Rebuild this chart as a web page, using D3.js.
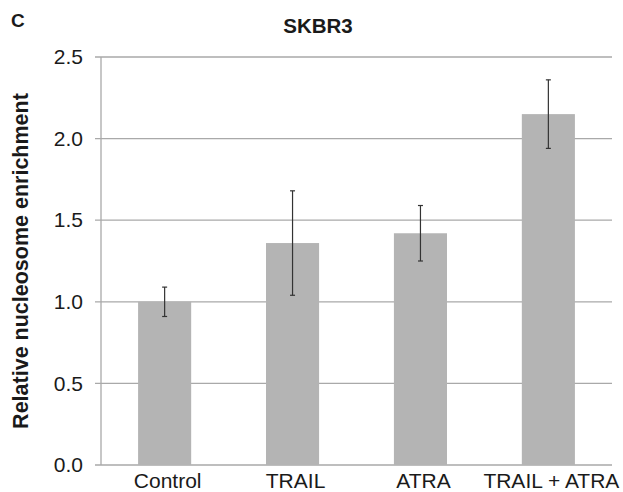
<!DOCTYPE html>
<html>
<head>
<meta charset="utf-8">
<script src="https://cdn.jsdelivr.net/npm/d3@7"></script>
<style>
  body { margin: 0; background: #fff; }
  text { font-family: "Liberation Sans", Arial, sans-serif; }
</style>
</head>
<body>
<script>
// chart values
var categories = ["Control", "TRAIL", "ATRA", "TRAIL + ATRA"];
var means = [1.0, 1.36, 1.42, 2.15];
var errors = [0.09, 0.32, 0.17, 0.21];
var yTicks = [0.0, 0.5, 1.0, 1.5, 2.0, 2.5];

var W = 623, H = 492;
var margin = {top: 57, right: 11, bottom: 27, left: 101};
var w = W - margin.left - margin.right;
var h = H - margin.top - margin.bottom;

var svg = d3.select("body").append("svg")
    .attr("width", W)
    .attr("height", H);

var g = svg.append("g")
    .attr("transform", "translate(" + margin.left + "," + margin.top + ")");

var x = d3.scaleBand()
    .domain(categories)
    .range([0, w])
    .paddingInner(0.585)
    .paddingOuter(0.29);

var y = d3.scaleLinear()
    .domain([0, 2.5])
    .range([h, 0]);

// gridlines (with little outer tick)
g.selectAll("line.grid")
  .data(yTicks)
  .enter()
  .append("line")
  .attr("class", "grid")
  .attr("x1", -6)
  .attr("x2", w)
  .attr("y1", function(d){ return y(d); })
  .attr("y2", function(d){ return y(d); })
  .attr("stroke", "#a9a9a9")
  .attr("stroke-width", 1.3);

// y axis labels
var yAxis = g.append("g")
  .call(d3.axisLeft(y).tickValues(yTicks).tickFormat(d3.format(".1f")).tickSize(0).tickPadding(18));
yAxis.select(".domain").remove();
yAxis.selectAll("text")
  .attr("font-size", 21)
  .attr("fill", "#1a1a1a")
  .attr("font-family", "Liberation Sans, Arial, sans-serif");

// vertical axis line
g.append("line")
  .attr("x1", 0).attr("x2", 0)
  .attr("y1", y(2.5)).attr("y2", y(0))
  .attr("stroke", "#a9a9a9")
  .attr("stroke-width", 1.3);

// bars
g.selectAll("rect.bar")
  .data(categories)
  .enter()
  .append("rect")
  .attr("class", "bar")
  .attr("x", function(d){ return x(d); })
  .attr("width", x.bandwidth())
  .attr("y", function(d, i){ return y(means[i]); })
  .attr("height", function(d, i){ return y(0) - y(means[i]); })
  .attr("fill", "#b4b4b4");

// error bars
var eb = g.selectAll("g.err")
  .data(categories)
  .enter()
  .append("g")
  .attr("class", "err")
  .attr("stroke", "#333")
  .attr("stroke-width", 1.2);

eb.append("line")
  .attr("x1", function(d){ return x(d) + x.bandwidth() / 2; })
  .attr("x2", function(d){ return x(d) + x.bandwidth() / 2; })
  .attr("y1", function(d, i){ return y(means[i] + errors[i]); })
  .attr("y2", function(d, i){ return y(means[i] - errors[i]); });

[1, -1].forEach(function(s){
  eb.append("line")
    .attr("x1", function(d){ return x(d) + x.bandwidth() / 2 - 2.5; })
    .attr("x2", function(d){ return x(d) + x.bandwidth() / 2 + 2.5; })
    .attr("y1", function(d, i){ return y(means[i] + s * errors[i]); })
    .attr("y2", function(d, i){ return y(means[i] + s * errors[i]); });
});

// x axis labels
var xAxis = g.append("g")
  .attr("transform", "translate(0," + h + ")")
  .call(d3.axisBottom(x).tickSize(0).tickPadding(8));
xAxis.select(".domain").remove();
xAxis.selectAll("text")
  .attr("font-size", 21)
  .attr("fill", "#1a1a1a")
  .attr("font-family", "Liberation Sans, Arial, sans-serif")
  .attr("dx", 3);

// y axis title
svg.append("text")
  .attr("transform", "translate(28," + (margin.top + h / 2) + ") rotate(-90)")
  .attr("text-anchor", "middle")
  .attr("font-size", 21.5)
  .attr("font-weight", "bold")
  .attr("fill", "#1a1a1a")
  .text("Relative nucleosome enrichment");

// title
svg.append("text")
  .attr("x", 318)
  .attr("y", 33)
  .attr("text-anchor", "middle")
  .attr("font-size", 20.5)
  .attr("font-weight", "bold")
  .attr("fill", "#1a1a1a")
  .text("SKBR3");

// panel letter
svg.append("text")
  .attr("x", 11)
  .attr("y", 27)
  .attr("font-size", 19)
  .attr("font-weight", "bold")
  .attr("fill", "#1a1a1a")
  .text("C");
</script>
</body>
</html>
